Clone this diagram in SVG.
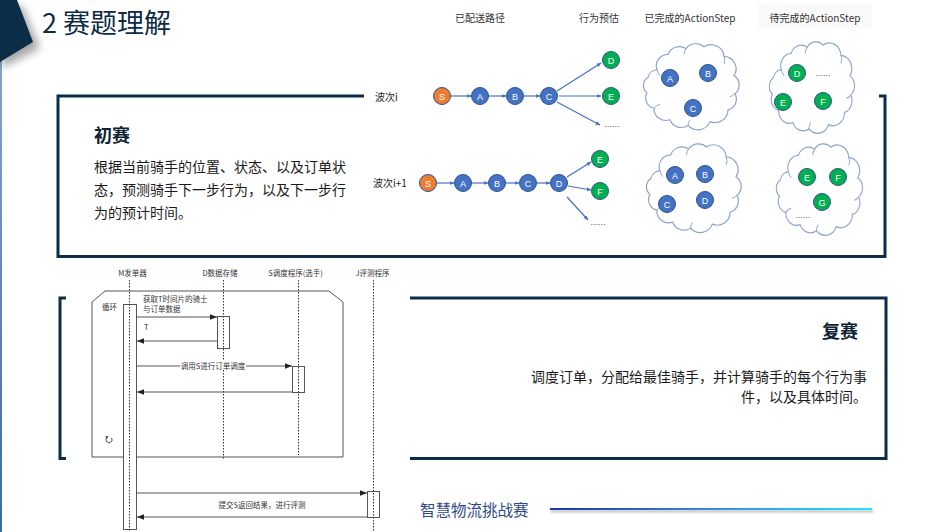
<svg xmlns="http://www.w3.org/2000/svg" width="946" height="532" viewBox="0 0 946 532">
<defs>
<style>
.cn{font-family:"Noto Sans CJK SC","Noto Sans",sans-serif}
.frame{fill:none;stroke:#0b2d48;stroke-width:3}
.hd{font-size:10px;fill:#333;text-anchor:middle}
.nb{fill:#4472c4;stroke:#2f528f;stroke-width:1}
.ng{fill:#00b050;stroke:#2f528f;stroke-width:1}
.no{fill:#ed7d31;stroke:#2f528f;stroke-width:1}
.nt{font-family:"Liberation Sans",sans-serif;font-size:9px;fill:#fff;text-anchor:middle}
.dots{font-family:"Liberation Sans",sans-serif;font-size:9px;fill:#555;text-anchor:middle}
.ar{stroke:#4472c4;stroke-width:1.2;fill:none;marker-end:url(#ab)}
.cloud{fill:#fff;stroke:#8ea3cc;stroke-width:1.2}
.curl{fill:none;stroke:#8ea3cc;stroke-width:1}
.lbl{font-size:10px;fill:#222}
.body{font-size:14px;fill:#1a1a1a}
.hd2{font-size:18px;font-weight:bold;fill:#0d2233}
.seq{font-size:7.5px;fill:#333}
.life{stroke:#333;stroke-width:1;stroke-dasharray:1.5 1.5;fill:none}
.act{fill:#fff;stroke:#555;stroke-width:1}
.msg{stroke:#555;stroke-width:1;fill:none;marker-end:url(#sa)}
</style>
<marker id="ab" viewBox="0 0 10 10" refX="9" refY="5" markerWidth="4" markerHeight="4" orient="auto"><path d="M0,1 L10,5 L0,9 z" fill="#4472c4"/></marker>
<marker id="sa" viewBox="0 0 10 10" refX="10" refY="5" markerWidth="7" markerHeight="7" orient="auto" markerUnits="userSpaceOnUse"><path d="M0,1 L10,5 L0,9 z" fill="#222"/></marker>
<linearGradient id="foot" x1="0" x2="1" y1="0" y2="0"><stop offset="0" stop-color="#1a36a8"/><stop offset="0.5" stop-color="#3a8ad8"/><stop offset="1" stop-color="#1de6ff"/></linearGradient>
<linearGradient id="edge" x1="0" x2="0" y1="0" y2="1"><stop offset="0" stop-color="#8fabd0"/><stop offset="1" stop-color="#3d6a9e"/></linearGradient>
<filter id="sh" x="-50%" y="-50%" width="200%" height="200%"><feGaussianBlur stdDeviation="4"/></filter>
<filter id="sh2" x="-10%" y="-200%" width="120%" height="500%"><feGaussianBlur stdDeviation="1"/></filter>
<path id="cloud" d="M15,30 A12,12 0 0 1 26,14 A12,12 0 0 1 44,8 A12,12 0 0 1 62,6 A13,13 0 0 1 82,16 A13,13 0 0 1 92,36 A12,12 0 0 1 93,55 A12,12 0 0 1 86,72 A13,13 0 0 1 68,84 A13,13 0 0 1 46,88 A12,12 0 0 1 28,82 A12,12 0 0 1 12,70 A11,11 0 0 1 5,54 A10,10 0 0 1 6,38 A10,10 0 0 1 15,30 Z"/>
<g id="curls" class="curl"><path d="M15,30 A12,12 0 0 0 18,36"/><path d="M44,8 A10,10 0 0 0 42,14"/><path d="M82,16 A10,10 0 0 1 82,24"/><path d="M93,55 A10,10 0 0 1 88,58"/><path d="M46,88 A10,10 0 0 1 48,82"/><path d="M12,70 A10,10 0 0 1 18,66"/></g>
</defs>
<rect width="946" height="532" fill="#fff"/>

<g id="title">
<rect x="0" y="0" width="2" height="532" fill="url(#edge)"/>
<polygon points="2,6 22,6 40,48 2,68" fill="#000" opacity="0.35" filter="url(#sh)"/>
<polygon points="0,0 17,0 33,42 0,62" fill="#0b2d48"/>
<text class="cn" x="42" y="33" font-size="27" fill="#0d2b45">2 赛题理解</text>
</g>

<g id="box-preliminary">
<path class="frame" d="M364,96 L58,96 L58,256.5 L885,256.5 L885,96 L879,96"/>
<text class="cn hd2" x="94" y="142">初赛</text>
<text class="cn body" x="94" y="172">根据当前骑手的位置、状态、以及订单状</text>
<text class="cn body" x="94" y="195">态，预测骑手下一步行为，以及下一步行</text>
<text class="cn body" x="94" y="218">为的预计时间。</text>
</g>

<g id="box-final">
<path class="frame" d="M66,298 L60,298 L60,458.5 L66,458.5"/>
<path class="frame" d="M410,298 L886,298 L886,458.5 L410,458.5"/>
<text class="cn hd2" x="858" y="338" text-anchor="end">复赛</text>
<text class="cn body" x="867" y="382" text-anchor="end">调度订单，分配给最佳骑手，并计算骑手的每个行为事</text>
<text class="cn body" x="867" y="402" text-anchor="end">件，以及具体时间。</text>
</g>

<g id="headers">
<rect x="758" y="4" width="114" height="24" fill="#fafafa"/>
<text class="cn hd" x="480" y="22">已配送路径</text>
<text class="cn hd" x="599" y="22">行为预估</text>
<text class="cn hd" x="690" y="22">已完成的ActionStep</text>
<text class="cn hd" x="815" y="22">待完成的ActionStep</text>
</g>

<g id="clouds">
<g transform="translate(642,41) scale(1,0.96)"><use href="#cloud" class="cloud"/><use href="#curls"/></g>
<g transform="translate(768,39) scale(0.89,1.02)"><use href="#cloud" class="cloud"/><use href="#curls"/></g>
<g transform="translate(645,141) scale(0.99,0.99)"><use href="#cloud" class="cloud"/><use href="#curls"/></g>
<g transform="translate(775,141) scale(0.9,1.02)"><use href="#cloud" class="cloud"/><use href="#curls"/></g>
</g>

<g id="connectors">
<line class="ar" x1="451" y1="96" x2="471" y2="96"/>
<line class="ar" x1="489" y1="96" x2="506" y2="96"/>
<line class="ar" x1="524" y1="96" x2="540" y2="96"/>
<line class="ar" x1="557" y1="91" x2="601" y2="63"/>
<line class="ar" x1="559" y1="96" x2="601" y2="96"/>
<line class="ar" x1="557" y1="102" x2="600" y2="125"/>
<line class="ar" x1="437" y1="183" x2="454" y2="183"/>
<line class="ar" x1="472" y1="183" x2="488" y2="183"/>
<line class="ar" x1="506" y1="183" x2="519" y2="183"/>
<line class="ar" x1="537" y1="183" x2="550" y2="183"/>
<line class="ar" x1="567" y1="177" x2="591" y2="162"/>
<line class="ar" x1="568" y1="186" x2="591" y2="190"/>
<line class="ar" x1="567" y1="197" x2="588" y2="220"/>
</g>

<g id="row-i">
<text class="cn lbl" x="375" y="101">波次i</text>
<g id="r1-S"><circle class="no" cx="442" cy="96" r="8.5"/><text class="nt" x="442" y="99.5">S</text></g>
<g id="r1-A"><circle class="nb" cx="480" cy="96" r="8.5"/><text class="nt" x="480" y="99.5">A</text></g>
<g id="r1-B"><circle class="nb" cx="515" cy="96" r="8.5"/><text class="nt" x="515" y="99.5">B</text></g>
<g id="r1-C"><circle class="nb" cx="549" cy="96" r="8.5"/><text class="nt" x="549" y="99.5">C</text></g>
<g id="r1-D"><circle class="ng" cx="611" cy="60" r="8.5"/><text class="nt" x="611" y="63.5">D</text></g>
<g id="r1-E"><circle class="ng" cx="611" cy="96" r="8.5"/><text class="nt" x="611" y="99.5">E</text></g>
<text class="dots" x="612" y="127">......</text>
<g id="c1-A"><circle class="nb" cx="670" cy="78" r="8.5"/><text class="nt" x="670" y="81.5">A</text></g>
<g id="c1-B"><circle class="nb" cx="708" cy="73" r="8.5"/><text class="nt" x="708" y="76.5">B</text></g>
<g id="c1-C"><circle class="nb" cx="693" cy="108" r="8.5"/><text class="nt" x="693" y="111.5">C</text></g>
<g id="c2-D"><circle class="ng" cx="797" cy="73" r="8.5"/><text class="nt" x="797" y="76.5">D</text></g>
<text class="dots" x="823" y="76">......</text>
<g id="c2-E"><circle class="ng" cx="783" cy="102" r="8.5"/><text class="nt" x="783" y="105.5">E</text></g>
<g id="c2-F"><circle class="ng" cx="823" cy="101" r="8.5"/><text class="nt" x="823" y="104.5">F</text></g>
</g>

<g id="row-i1">
<text class="cn lbl" x="373" y="187">波次i+1</text>
<g id="r2-S"><circle class="no" cx="428" cy="183" r="8.5"/><text class="nt" x="428" y="186.5">S</text></g>
<g id="r2-A"><circle class="nb" cx="463" cy="183" r="8.5"/><text class="nt" x="463" y="186.5">A</text></g>
<g id="r2-B"><circle class="nb" cx="497" cy="183" r="8.5"/><text class="nt" x="497" y="186.5">B</text></g>
<g id="r2-C"><circle class="nb" cx="528" cy="183" r="8.5"/><text class="nt" x="528" y="186.5">C</text></g>
<g id="r2-D"><circle class="nb" cx="559" cy="183" r="8.5"/><text class="nt" x="559" y="186.5">D</text></g>
<g id="r2-E"><circle class="ng" cx="600" cy="159" r="8.5"/><text class="nt" x="600" y="162.5">E</text></g>
<g id="r2-F"><circle class="ng" cx="600" cy="191" r="8.5"/><text class="nt" x="600" y="194.5">F</text></g>
<text class="dots" x="598" y="225">......</text>
<g id="c3-A"><circle class="nb" cx="675" cy="175" r="8.5"/><text class="nt" x="675" y="178.5">A</text></g>
<g id="c3-B"><circle class="nb" cx="705" cy="174" r="8.5"/><text class="nt" x="705" y="177.5">B</text></g>
<g id="c3-C"><circle class="nb" cx="667" cy="204" r="8.5"/><text class="nt" x="667" y="207.5">C</text></g>
<g id="c3-D"><circle class="nb" cx="705" cy="200" r="8.5"/><text class="nt" x="705" y="203.5">D</text></g>
<g id="c4-E"><circle class="ng" cx="807" cy="177" r="8.5"/><text class="nt" x="807" y="180.5">E</text></g>
<g id="c4-F"><circle class="ng" cx="838" cy="177" r="8.5"/><text class="nt" x="838" y="180.5">F</text></g>
<g id="c4-G"><circle class="ng" cx="822" cy="202" r="8.5"/><text class="nt" x="822" y="205.5">G</text></g>
<text class="dots" x="803" y="218">......</text>
</g>

<g id="sequence">
<text class="cn seq" x="132.5" y="276" text-anchor="middle">M发单器</text>
<text class="cn seq" x="220" y="276" text-anchor="middle">D数据存储</text>
<text class="cn seq" x="295.5" y="276" text-anchor="middle">S调度程序(选手)</text>
<text class="cn seq" x="372.5" y="276" text-anchor="middle">J评测程序</text>
<path d="M92,302 L105,291 L329,291 L343,302 L343,457 L92,457 Z" fill="none" stroke="#555" stroke-width="1"/>
<text class="cn seq" x="102" y="310">循环</text>
<path d="M111.5,438 A3,3 0 1 1 107,437.5" fill="none" stroke="#333" stroke-width="0.9"/>
<path d="M105.5,436 L108.5,436.5 L106.5,439 z" fill="#333"/>
<rect class="act" x="123.5" y="304.5" width="13" height="225"/>
<rect class="act" x="217.5" y="316.5" width="12" height="32"/>
<rect class="act" x="292.5" y="366.5" width="12" height="26"/>
<rect class="act" x="367.5" y="491.5" width="12" height="26"/>
<line class="life" x1="129.5" y1="280" x2="129.5" y2="532"/>
<line class="life" x1="223.5" y1="280" x2="223.5" y2="460"/>
<line class="life" x1="298.5" y1="280" x2="298.5" y2="455"/>
<line class="life" x1="373.5" y1="280" x2="373.5" y2="532"/>
<text class="cn seq" x="143" y="302">获取T时间片的骑士</text>
<text class="cn seq" x="143" y="312">与订单数据</text>
<line class="msg" x1="137" y1="317" x2="217" y2="317"/>
<text class="cn seq" x="144" y="330">T</text>
<line class="msg" x1="217" y1="341" x2="137" y2="341"/>
<line class="msg" x1="137" y1="366" x2="292" y2="366"/>
<rect x="180" y="361" width="66" height="9" fill="#fff"/>
<text class="cn seq" x="213" y="368.5" text-anchor="middle">调用S进行订单调度</text>
<line class="msg" x1="292" y1="392" x2="137" y2="392"/>
<line class="msg" x1="137" y1="493" x2="367" y2="493"/>
<text class="cn seq" x="262" y="508" text-anchor="middle">提交S返回结果，进行评测</text>
<line class="msg" x1="367" y1="517" x2="137" y2="517"/>
</g>

<g id="footer">
<text class="cn" x="420" y="516" font-size="15.5" fill="#2e4a86">智慧物流挑战赛</text>
<rect x="551" y="510" width="322" height="2.5" fill="#999" opacity="0.6" filter="url(#sh2)"/>
<rect x="550" y="508" width="322" height="2" fill="url(#foot)"/>
</g>
</svg>
